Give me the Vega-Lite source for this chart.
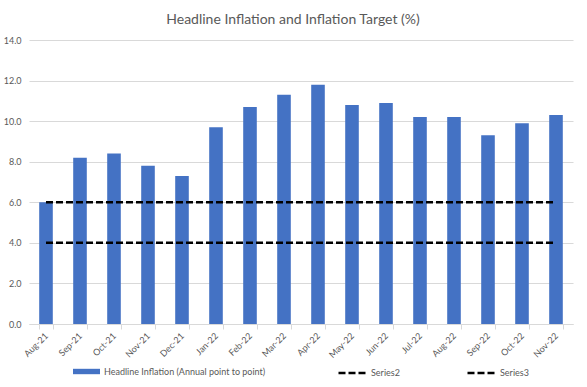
{
  "$schema": "https://vega.github.io/schema/vega-lite/v6.json",
  "width": 544,
  "height": 284,
  "autosize": {"type": "none"},
  "padding": {"left": 29, "top": 40, "right": 14, "bottom": 63},
  "background": "white",
  "title": {"text": "Headline Inflation and Inflation Target (%)", "fontSize": 14, "fontWeight": "normal", "color": "#595959", "anchor": "middle", "dx": -8, "offset": 9},
  "data": {"values": [
    {"month": "Aug-21", "headline": 6.0, "Series2": 6, "Series3": 4},
    {"month": "Sep-21", "headline": 8.2, "Series2": 6, "Series3": 4},
    {"month": "Oct-21", "headline": 8.4, "Series2": 6, "Series3": 4},
    {"month": "Nov-21", "headline": 7.8, "Series2": 6, "Series3": 4},
    {"month": "Dec-21", "headline": 7.3, "Series2": 6, "Series3": 4},
    {"month": "Jan-22", "headline": 9.7, "Series2": 6, "Series3": 4},
    {"month": "Feb-22", "headline": 10.7, "Series2": 6, "Series3": 4},
    {"month": "Mar-22", "headline": 11.3, "Series2": 6, "Series3": 4},
    {"month": "Apr-22", "headline": 11.8, "Series2": 6, "Series3": 4},
    {"month": "May-22", "headline": 10.8, "Series2": 6, "Series3": 4},
    {"month": "Jun-22", "headline": 10.9, "Series2": 6, "Series3": 4},
    {"month": "Jul-22", "headline": 10.2, "Series2": 6, "Series3": 4},
    {"month": "Aug-22", "headline": 10.2, "Series2": 6, "Series3": 4},
    {"month": "Sep-22", "headline": 9.3, "Series2": 6, "Series3": 4},
    {"month": "Oct-22", "headline": 9.9, "Series2": 6, "Series3": 4},
    {"month": "Nov-22", "headline": 10.3, "Series2": 6, "Series3": 4}
  ]},
  "layer": [
    {
      "mark": {"type": "bar"},
      "encoding": {
        "x": {"field": "month", "type": "nominal", "sort": null,
          "scale": {"paddingInner": 0.6, "paddingOuter": 0.3},
          "axis": {"title": null, "labelAngle": -45, "labelAlign": "right", "labelBaseline": "middle", "tickBand": "extent", "tickSize": 5, "grid": false, "labelPadding": 5, "domainColor": "#D9D9D9", "tickColor": "#D9D9D9"}},
        "y": {"field": "headline", "type": "quantitative",
          "scale": {"domain": [0, 14], "nice": false},
          "axis": {"title": null, "values": [0, 2, 4, 6, 8, 10, 12, 14], "format": ".1f", "domain": false, "ticks": false, "labelPadding": 8, "gridColor": "#D9D9D9"}},
        "fill": {"datum": "Headline Inflation (Annual point to point)", "type": "nominal",
          "scale": {"range": ["#4472C4"]},
          "legend": {"title": null, "orient": "none", "legendX": 44, "legendY": 318, "direction": "horizontal",
            "symbolType": "M-1,-0.2H1V0.2H-1Z", "symbolSize": 729, "symbolStrokeWidth": 0, "labelLimit": 400, "labelOffset": 4}}
      }
    },
    {
      "transform": [{"fold": ["Series2", "Series3"], "as": ["series", "target"]}],
      "mark": {"type": "line", "strokeDash": [7, 3], "strokeWidth": 2.5},
      "encoding": {
        "x": {"field": "month", "type": "nominal", "sort": null},
        "y": {"field": "target", "type": "quantitative"},
        "stroke": {"field": "series", "type": "nominal",
          "scale": {"domain": ["Series2", "Series3"], "range": ["#000000", "#000000"]},
          "legend": {"title": null, "orient": "none", "legendX": 308, "legendY": 318, "direction": "horizontal",
            "symbolType": "stroke", "symbolSize": 729, "symbolStrokeWidth": 2.5, "symbolDash": [7, 3], "columnPadding": 62, "labelOffset": 4}}
      }
    }
  ],
  "config": {
    "font": "Lato",
    "view": {"stroke": null},
    "axis": {"labelColor": "#595959", "labelFontSize": 9},
    "legend": {"labelColor": "#595959", "labelFontSize": 9}
  }
}
